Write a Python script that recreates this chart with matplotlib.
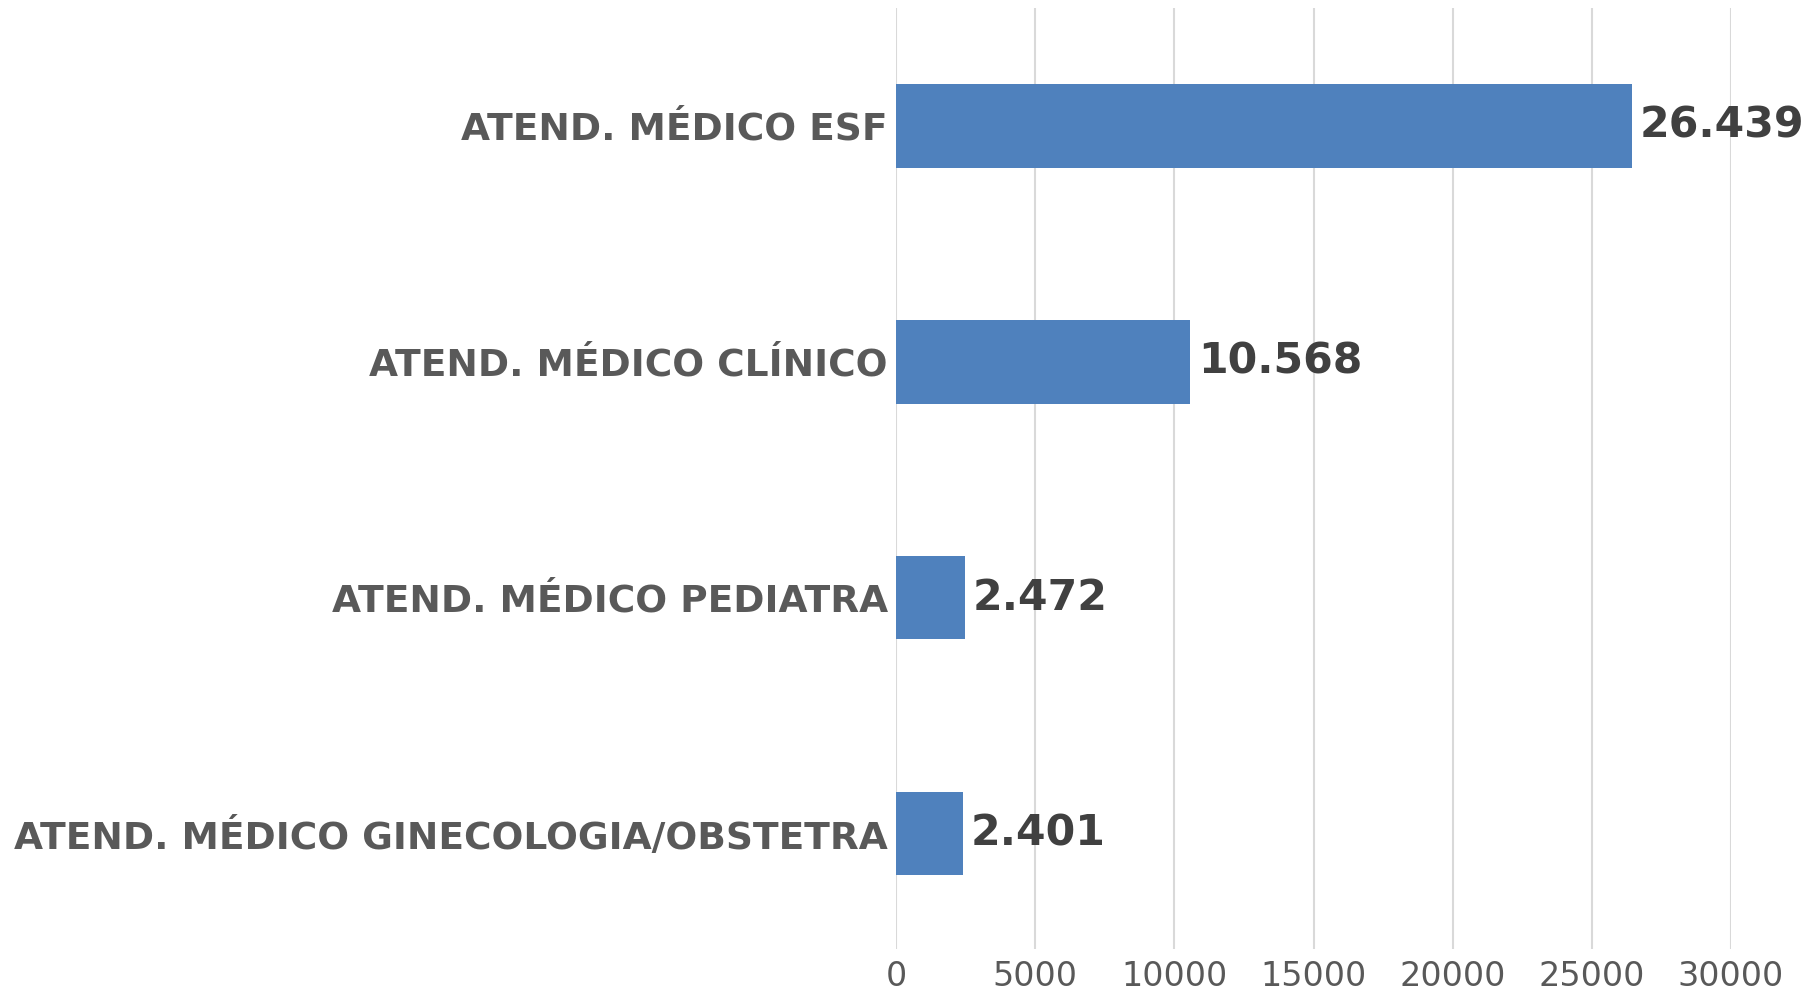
import matplotlib
matplotlib.use("Agg")
import matplotlib.pyplot as plt

categorias = ["ATEND. MÉDICO GINECOLOGIA/OBSTETRA", "ATEND. MÉDICO PEDIATRA",
              "ATEND. MÉDICO CLÍNICO", "ATEND. MÉDICO ESF"]
valores = [2401, 2472, 10568, 26439]
rotulos = ["2.401", "2.472", "10.568", "26.439"]
ticks_x = [0, 5000, 10000, 15000, 20000, 25000, 30000]

plt.rcParams['font.family'] = ['DejaVu Sans']

fig = plt.figure(figsize=(18.16, 9.92), dpi=100)
ax = fig.add_axes([896/1816, 1 - 949/992, (1731 - 896)/1816, (949 - 8)/992])

pos = range(len(categorias))
ax.barh(pos, valores, height=0.355, color="#4f81bd", zorder=3)

# rotulos de valor na ponta das barras
for i, v in enumerate(valores):
    ax.annotate(rotulos[i], (v, i), xytext=(5.5, 0), textcoords="offset points",
                va="center", ha="left", fontsize=30.7, fontweight="bold", color="#404040")

ax.set_xlim(0, 30000)
ax.set_ylim(-0.49, 3.5)
ax.set_xticks(ticks_x)
ax.set_xticklabels([str(t) for t in ticks_x])
ax.set_yticks(list(pos))
ax.set_yticklabels(categorias, fontsize=27, fontweight="bold", color="#595959")
ax.tick_params(axis="x", length=0, pad=8, labelsize=24, labelcolor="#595959")
ax.tick_params(axis="y", length=0, pad=6)

ax.grid(axis="x", color="#d9d9d9", linewidth=1.5, zorder=0)
for s in ax.spines.values():
    s.set_visible(False)

fig.savefig("out.png", dpi=100)
